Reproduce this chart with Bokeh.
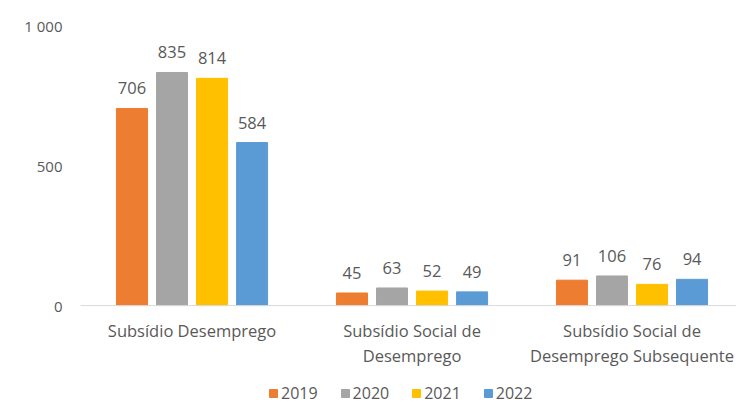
from bokeh.plotting import figure
from bokeh.models import ColumnDataSource, Legend, LegendItem, FixedTicker, LabelSet, Span
from bokeh.core.properties import value
from bokeh.embed import file_html
from bokeh.resources import INLINE

categories = ["Subsídio Desemprego", "Subsídio Social de\nDesemprego", "Subsídio Social de\nDesemprego Subsequente"]
years = ["2019", "2020", "2021", "2022"]
v2019 = [706, 45, 91]
v2020 = [835, 63, 106]
v2021 = [814, 52, 76]
v2022 = [584, 49, 94]
y_ticks = [0, 500, 1000]
y_tick_labels = ["0", "500", "1 000"]

series = [v2019, v2020, v2021, v2022]
colors = ["#ED7D31", "#A5A5A5", "#FFC000", "#5B9BD5"]
offsets = [-0.273, -0.091, 0.091, 0.273]
FONT = "Open Sans"
TXT = "#595959"
FS = "16.5px"

p = figure(frame_width=656, frame_height=395, output_backend="svg", toolbar_location=None,
           x_range=(-0.007, 2.975), y_range=(-358, 1057),
           min_border_left=80, min_border_right=0, min_border_top=10, min_border_bottom=0)
p.outline_line_color = None
p.xgrid.grid_line_color = None
p.ygrid.grid_line_color = None
p.xaxis.visible = False

p.add_layout(Span(location=0, dimension="width", line_color="#D9D9D9", line_width=1))

items = []
for yr, vals, col, off in zip(years, series, colors, offsets):
    xs = [i + 0.5 + off for i in range(len(categories))]
    src = ColumnDataSource(dict(x=xs, top=vals, lab=[str(v) for v in vals]))
    r = p.vbar(x="x", top="top", bottom=0, width=0.141, color=col, source=src)
    items.append(LegendItem(label=yr, renderers=[r]))
    p.add_layout(LabelSet(x="x", y="top", text="lab", source=src, y_offset=14,
                          text_align="center", text_baseline="bottom",
                          text_font=value(FONT), text_font_size=FS, text_color=TXT))

# category labels, each line centred on its own
lines = [c.split("\n") for c in categories]
for k, yoff in enumerate([-25, -50]):
    xs, labs = [], []
    for i, ls in enumerate(lines):
        if k < len(ls):
            xs.append(i + 0.5)
            labs.append(ls[k])
    src = ColumnDataSource(dict(x=xs, y=[0] * len(xs), lab=labs))
    p.add_layout(LabelSet(x="x", y="y", text="lab", source=src, y_offset=yoff,
                          text_align="center", text_baseline="middle",
                          text_font=value(FONT), text_font_size=FS, text_color=TXT))

p.yaxis.ticker = FixedTicker(ticks=y_ticks)
p.yaxis.major_label_overrides = {t: l for t, l in zip(y_ticks, y_tick_labels)}
p.yaxis.axis_line_color = None
p.yaxis.major_tick_line_color = None
p.yaxis.minor_tick_line_color = None
p.yaxis.major_tick_out = 0
p.yaxis.major_tick_in = 0
p.yaxis.major_label_standoff = 18
p.yaxis.major_label_text_font = FONT
p.yaxis.major_label_text_font_size = "15px"
p.yaxis.major_label_text_color = TXT

legend = Legend(items=items, orientation="horizontal", location=(188, 1),
                label_text_font=FONT, label_text_font_size="16px", label_text_color=TXT,
                glyph_width=10, glyph_height=10, spacing=22, label_standoff=3,
                border_line_color=None, background_fill_alpha=0, margin=0, padding=0)
p.add_layout(legend, "center")

open("out.html", "w").write(file_html(p, INLINE))
